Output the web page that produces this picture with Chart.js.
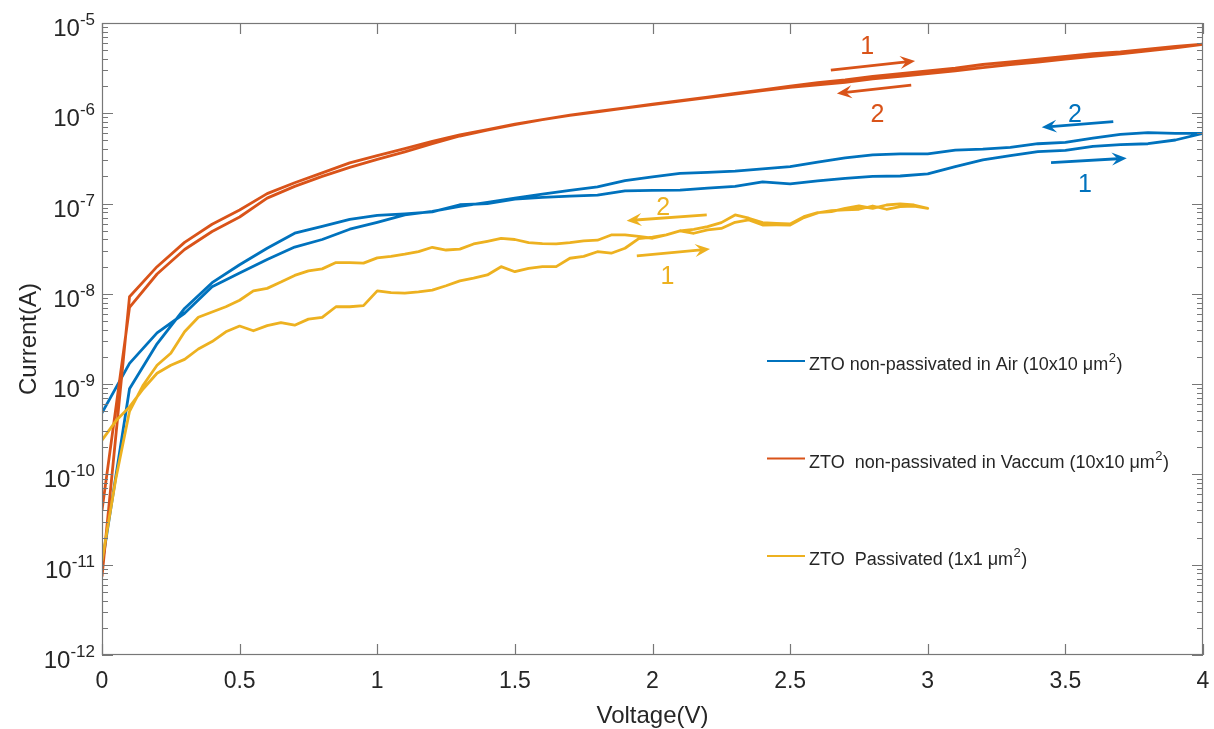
<!DOCTYPE html>
<html>
<head>
<meta charset="utf-8">
<title>ZTO I-V sweeps</title>
<script src="https://cdn.jsdelivr.net/npm/chart.js@4.4.0/dist/chart.umd.min.js"></script>
<style>
  html, body { margin: 0; padding: 0; background: #fff; }
  #wrap { width: 1214px; height: 729px; }
</style>
</head>
<body>
<div id="wrap"><canvas id="ivChart" width="1214" height="729"></canvas></div>
<script>
// sweep voltages (V)
const voltsCoarse = [0, 0.1, 0.2, 0.3, 0.4, 0.5, 0.6, 0.7, 0.8, 0.9, 1.0, 1.1, 1.2, 1.3, 1.4, 1.5, 1.6, 1.7, 1.8, 1.9,
  2.0, 2.1, 2.2, 2.3, 2.4, 2.5, 2.6, 2.7, 2.8, 2.9, 3.0, 3.1, 3.2, 3.3, 3.4, 3.5, 3.6, 3.7, 3.8, 3.9, 4.0];
const voltsFine = [0, 0.05, 0.1, 0.15, 0.2, 0.25, 0.3, 0.35, 0.4, 0.45, 0.5, 0.55, 0.6, 0.65, 0.7, 0.75, 0.8, 0.85, 0.9, 0.95,
  1.0, 1.05, 1.1, 1.15, 1.2, 1.25, 1.3, 1.35, 1.4, 1.45, 1.5, 1.55, 1.6, 1.65, 1.7, 1.75, 1.8, 1.85, 1.9, 1.95,
  2.0, 2.05, 2.1, 2.15, 2.2, 2.25, 2.3, 2.35, 2.4, 2.45, 2.5, 2.55, 2.6, 2.65, 2.7, 2.75, 2.8, 2.85, 2.9, 2.95, 3.0];

// current (A), forward sweep (1) and reverse sweep (2), listed by ascending voltage
const airForward = [1.0e-11, 8.9e-10, 2.8e-9, 6.9e-9, 1.33e-8, 2.1e-8, 3.2e-8, 4.7e-8, 5.6e-8, 6.7e-8,
  7.4e-8, 7.7e-8, 8.1e-8, 9.7e-8, 1.0e-7, 1.12e-7, 1.17e-7, 1.21e-7, 1.24e-7, 1.38e-7,
  1.40e-7, 1.41e-7, 1.48e-7, 1.55e-7, 1.74e-7, 1.65e-7, 1.78e-7, 1.9e-7, 2.0e-7, 2.02e-7,
  2.13e-7, 2.57e-7, 3.04e-7, 3.4e-7, 3.76e-7, 3.88e-7, 4.3e-7, 4.5e-7, 4.6e-7, 5.06e-7, 6.0e-7];
const airReverse = [4.8e-10, 1.7e-9, 3.7e-9, 6.1e-9, 1.2e-8, 1.7e-8, 2.4e-8, 3.3e-8, 4.0e-8, 5.2e-8,
  6.2e-8, 7.5e-8, 8.2e-8, 9.3e-8, 1.03e-7, 1.15e-7, 1.27e-7, 1.40e-7, 1.53e-7, 1.80e-7,
  1.98e-7, 2.16e-7, 2.22e-7, 2.29e-7, 2.42e-7, 2.56e-7, 2.87e-7, 3.2e-7, 3.47e-7, 3.55e-7,
  3.55e-7, 3.9e-7, 4.0e-7, 4.2e-7, 4.6e-7, 4.75e-7, 5.3e-7, 5.85e-7, 6.1e-7, 6.0e-7, 6.0e-7];

const vacForward = [7.4e-12, 9.3e-9, 2.0e-8, 3.72e-8, 5.9e-8, 8.5e-8, 1.29e-7, 1.70e-7, 2.19e-7, 2.82e-7,
  3.39e-7, 4.07e-7, 4.90e-7, 5.75e-7, 6.61e-7, 7.59e-7, 8.51e-7, 9.55e-7, 1.05e-6, 1.15e-6,
  1.26e-6, 1.38e-6, 1.51e-6, 1.66e-6, 1.82e-6, 2.00e-6, 2.19e-6, 2.34e-6, 2.57e-6, 2.75e-6,
  2.95e-6, 3.16e-6, 3.47e-6, 3.72e-6, 3.98e-6, 4.27e-6, 4.57e-6, 4.79e-6, 5.13e-6, 5.50e-6, 5.82e-6];
const vacReverse = [4.0e-11, 7.1e-9, 1.66e-8, 3.1e-8, 4.9e-8, 7.1e-8, 1.15e-7, 1.55e-7, 2.0e-7, 2.52e-7,
  3.08e-7, 3.73e-7, 4.6e-7, 5.6e-7, 6.5e-7, 7.5e-7, 8.5e-7, 9.5e-7, 1.04e-6, 1.14e-6,
  1.25e-6, 1.36e-6, 1.49e-6, 1.63e-6, 1.78e-6, 1.94e-6, 2.07e-6, 2.2e-6, 2.4e-6, 2.57e-6,
  2.75e-6, 2.95e-6, 3.2e-6, 3.45e-6, 3.7e-6, 3.98e-6, 4.27e-6, 4.55e-6, 4.9e-6, 5.3e-6, 5.82e-6];

const passForward = [2.4e-10, 3.9e-10, 5.6e-10, 8.9e-10, 1.32e-9, 1.62e-9, 1.88e-9, 2.45e-9, 2.96e-9, 3.8e-9,
  4.4e-9, 3.9e-9, 4.45e-9, 4.8e-9, 4.5e-9, 5.25e-9, 5.5e-9, 7.2e-9, 7.2e-9, 7.4e-9,
  1.08e-8, 1.03e-8, 1.02e-8, 1.05e-8, 1.1e-8, 1.23e-8, 1.39e-8, 1.49e-8, 1.62e-8, 2.0e-8,
  1.76e-8, 1.92e-8, 2.0e-8, 2.0e-8, 2.48e-8, 2.6e-8, 2.93e-8, 2.82e-8, 3.2e-8, 4.1e-8,
  4.24e-8, 4.5e-8, 5.0e-8, 4.69e-8, 5.1e-8, 5.3e-8, 6.2e-8, 6.58e-8, 5.79e-8, 5.8e-8,
  5.79e-8, 7.0e-8, 7.9e-8, 8.34e-8, 8.5e-8, 8.65e-8, 9.4e-8, 8.65e-8, 9.24e-8, 9.4e-8, 8.87e-8];
const passReverse = [1.1e-11, 8.9e-11, 5.0e-10, 9.8e-10, 1.62e-9, 2.2e-9, 3.8e-9, 5.5e-9, 6.3e-9, 7.2e-9,
  8.5e-9, 1.08e-8, 1.15e-8, 1.35e-8, 1.6e-8, 1.8e-8, 1.89e-8, 2.22e-8, 2.22e-8, 2.19e-8,
  2.5e-8, 2.6e-8, 2.75e-8, 2.94e-8, 3.28e-8, 3.06e-8, 3.13e-8, 3.57e-8, 3.82e-8, 4.12e-8,
  4.0e-8, 3.7e-8, 3.6e-8, 3.57e-8, 3.7e-8, 3.87e-8, 3.93e-8, 4.49e-8, 4.5e-8, 4.33e-8,
  4.13e-8, 4.49e-8, 4.98e-8, 5.19e-8, 5.55e-8, 6.15e-8, 7.48e-8, 6.88e-8, 6.15e-8, 6.05e-8,
  5.94e-8, 7.16e-8, 7.94e-8, 8.13e-8, 8.87e-8, 9.4e-8, 8.87e-8, 9.64e-8, 9.9e-8, 9.64e-8, 8.87e-8];

const seriesLabels = [
  'ZTO non-passivated in Air (10x10 μm²)',
  'ZTO  non-passivated in Vaccum (10x10 μm²)',
  'ZTO  Passivated (1x1 μm²)'
];

// axis ticks
const xTickValues = [0, 0.5, 1, 1.5, 2, 2.5, 3, 3.5, 4];
const xTickLabels = ['0', '0.5', '1', '1.5', '2', '2.5', '3', '3.5', '4'];
const yTickExponents = [-12, -11, -10, -9, -8, -7, -6, -5];

// sweep-direction arrows: [V, I] of tail and head, plus the number written beside each
const arrowSeries = [1, 1, 0, 0, 2, 2];
const arrowTails = [[2.648, 3.0e-6], [2.94, 2.05e-6], [3.674, 8.07e-7], [3.448, 2.84e-7], [2.197, 7.48e-8], [1.943, 2.63e-8]];
const arrowHeads = [[2.954, 3.8e-6], [2.67, 1.66e-6], [3.414, 7.0e-7], [3.723, 3.18e-7], [1.906, 6.47e-8], [2.209, 3.14e-8]];
const arrowNumbers = ['1', '2', '2', '1', '2', '1'];
const arrowNumberAt = [[2.78, 5.7e-6], [2.817, 1.02e-6], [3.535, 1.02e-6], [3.571, 1.68e-7], [2.039, 9.4e-8], [2.054, 1.62e-8]];

const colors = ['#0072BD', '#D95319', '#EDB120'];
const textColor = '#262626';
const axisColor = '#777777';
const fontFamily = '"Liberation Sans", Arial, Helvetica, sans-serif';

// forward sweep then back down again, as one continuous trace
function loop(volts, fwd, rev) {
  const pts = fwd.map((c, i) => ({ x: volts[i], y: c }));
  for (let i = rev.length - 1; i >= 0; i--) pts.push({ x: volts[i], y: rev[i] });
  return pts;
}

// draws "base" with a raised exponent, right-aligned at x
function drawPower(ctx, base, exp, xRight, yBase, size, supSize) {
  ctx.font = supSize + 'px ' + fontFamily;
  const wSup = ctx.measureText(exp).width;
  ctx.textAlign = 'left';
  ctx.fillText(exp, xRight - wSup, yBase - size * 0.46);
  ctx.font = size + 'px ' + fontFamily;
  const wBase = ctx.measureText(base).width;
  ctx.fillText(base, xRight - wSup - wBase, yBase);
}

// text where '²' is drawn as a small raised 2
function drawLabel(ctx, text, x, yBase, size) {
  const parts = text.split('²');
  let cx = x;
  ctx.textAlign = 'left';
  parts.forEach((p, i) => {
    ctx.font = size + 'px ' + fontFamily;
    ctx.fillText(p, cx, yBase);
    cx += ctx.measureText(p).width;
    if (i < parts.length - 1) {
      ctx.font = Math.round(size * 0.72) + 'px ' + fontFamily;
      ctx.fillText('2', cx + 0.5, yBase - size * 0.42);
      cx += ctx.measureText('2').width + 1;
    }
  });
}

function drawArrow(ctx, x1, y1, x2, y2, color) {
  const ang = Math.atan2(y2 - y1, x2 - x1);
  const len = 15, half = 6.5;
  ctx.strokeStyle = color;
  ctx.fillStyle = color;
  ctx.lineWidth = 2.8;
  ctx.beginPath();
  ctx.moveTo(x1, y1);
  ctx.lineTo(x2 - Math.cos(ang) * len * 0.6, y2 - Math.sin(ang) * len * 0.6);
  ctx.stroke();
  ctx.save();
  ctx.translate(x2, y2);
  ctx.rotate(ang);
  ctx.beginPath();
  ctx.moveTo(0, 0);
  ctx.lineTo(-len, -half);
  ctx.lineTo(-len * 0.62, 0);
  ctx.lineTo(-len, half);
  ctx.closePath();
  ctx.fill();
  ctx.restore();
}

const matlabAxes = {
  id: 'matlabAxes',
  afterDatasetsDraw(chart) {
    const { ctx, chartArea: a, scales: { x, y } } = chart;
    ctx.save();

    // box and inward ticks
    ctx.strokeStyle = axisColor;
    ctx.lineWidth = 1.2;
    ctx.strokeRect(a.left + 0.5, a.top + 0.5, a.right - a.left - 1, a.bottom - a.top - 1);
    ctx.beginPath();
    xTickValues.forEach(v => {
      const px = Math.round(x.getPixelForValue(v)) + 0.5;
      ctx.moveTo(px, a.bottom); ctx.lineTo(px, a.bottom - 11);
      ctx.moveTo(px, a.top); ctx.lineTo(px, a.top + 11);
    });
    yTickExponents.forEach(e => {
      const py = Math.round(y.getPixelForValue(Math.pow(10, e))) + 0.5;
      ctx.moveTo(a.left, py); ctx.lineTo(a.left + 11, py);
      ctx.moveTo(a.right, py); ctx.lineTo(a.right - 11, py);
      if (e < -5) {
        for (let m = 2; m <= 9; m++) {
          const pm = Math.round(y.getPixelForValue(m * Math.pow(10, e))) + 0.5;
          ctx.moveTo(a.left, pm); ctx.lineTo(a.left + 6, pm);
          ctx.moveTo(a.right, pm); ctx.lineTo(a.right - 6, pm);
        }
      }
    });
    ctx.stroke();

    // tick labels
    ctx.fillStyle = textColor;
    ctx.textBaseline = 'alphabetic';
    ctx.font = '23px ' + fontFamily;
    ctx.textAlign = 'center';
    xTickValues.forEach((v, i) => {
      ctx.fillText(xTickLabels[i], x.getPixelForValue(v), a.bottom + 33);
    });
    yTickExponents.forEach(e => {
      const py = y.getPixelForValue(Math.pow(10, e));
      drawPower(ctx, '10', String(e), a.left - 7, py + 13, 24, 17);
    });

    // axis titles
    ctx.font = '24px ' + fontFamily;
    ctx.textAlign = 'center';
    ctx.fillText('Voltage(V)', (a.left + a.right) / 2, a.bottom + 68);
    ctx.save();
    ctx.translate(36, (a.top + a.bottom) / 2);
    ctx.rotate(-Math.PI / 2);
    ctx.fillText('Current(A)', 0, 0);
    ctx.restore();

    // sweep-direction arrows and numbers
    arrowSeries.forEach((s, i) => {
      const c = colors[s];
      drawArrow(ctx,
        x.getPixelForValue(arrowTails[i][0]), y.getPixelForValue(arrowTails[i][1]),
        x.getPixelForValue(arrowHeads[i][0]), y.getPixelForValue(arrowHeads[i][1]), c);
      ctx.fillStyle = c;
      ctx.font = '25px ' + fontFamily;
      ctx.textAlign = 'center';
      ctx.fillText(arrowNumbers[i], x.getPixelForValue(arrowNumberAt[i][0]), y.getPixelForValue(arrowNumberAt[i][1]) + 9);
    });

    // legend inside the axes
    const legX = a.left + 665;
    const legRows = [a.top + 338, a.top + 435.5, a.top + 533];
    chart.data.datasets.forEach((ds, i) => {
      const ly = legRows[i];
      ctx.strokeStyle = ds.borderColor;
      ctx.lineWidth = 2.2;
      ctx.beginPath();
      ctx.moveTo(legX, ly); ctx.lineTo(legX + 38, ly);
      ctx.stroke();
      ctx.fillStyle = textColor;
      drawLabel(ctx, ds.label, legX + 42, ly + 9, 18);
    });
    ctx.restore();
  }
};

new Chart(document.getElementById('ivChart'), {
  type: 'scatter',
  data: {
    datasets: [{
      label: seriesLabels[0],
      data: loop(voltsCoarse, airForward, airReverse),
      borderColor: colors[0],
      order: 3
    }, {
      label: seriesLabels[1],
      data: loop(voltsCoarse, vacForward, vacReverse),
      borderColor: colors[1],
      order: 2
    }, {
      label: seriesLabels[2],
      data: loop(voltsFine, passForward, passReverse),
      borderColor: colors[2],
      order: 1
    }]
  },
  options: {
    responsive: false,
    animation: false,
    showLine: true,
    elements: {
      point: { radius: 0 },
      line: { borderWidth: 2.8, tension: 0, fill: false, borderJoinStyle: 'round' }
    },
    layout: { padding: { left: 102, top: 23, right: 11, bottom: 74 } },
    plugins: {
      legend: { display: false },
      tooltip: { enabled: false }
    },
    scales: {
      x: { type: 'linear', min: 0, max: 4, display: false },
      y: { type: 'logarithmic', min: 1e-12, max: 1e-5, display: false }
    }
  },
  plugins: [matlabAxes]
});
</script>
</body>
</html>
